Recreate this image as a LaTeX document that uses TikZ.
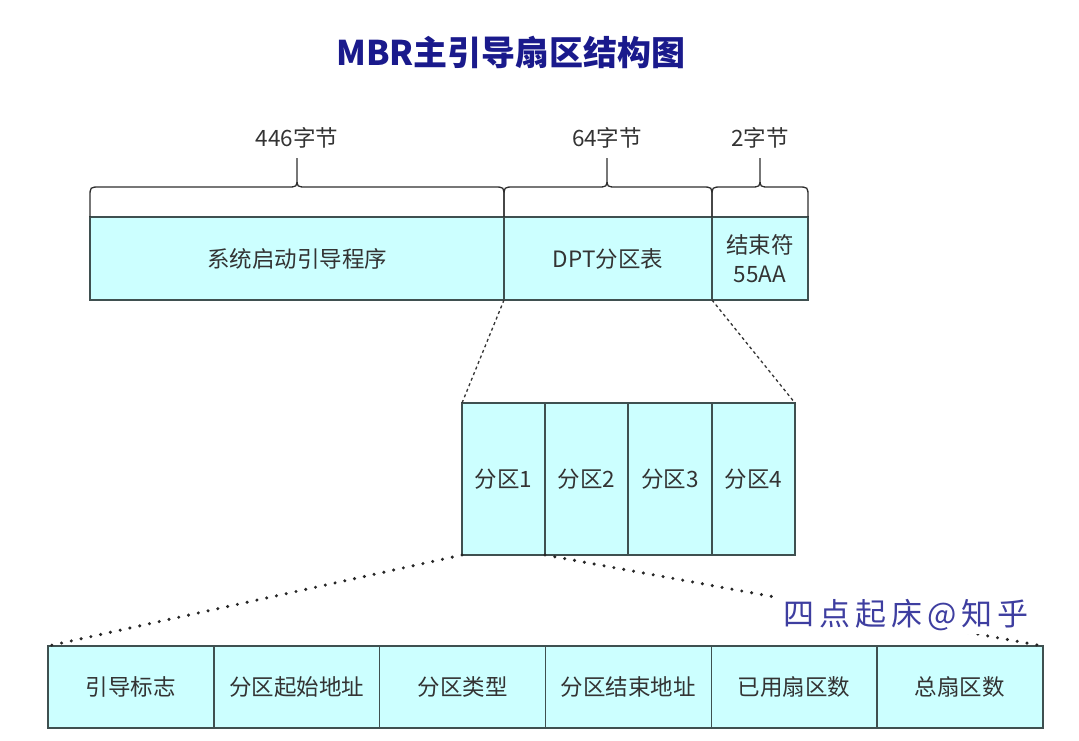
\documentclass[tikz,border=0pt]{standalone}
\usepackage{fontspec}
\setmainfont{Noto Sans CJK SC}
\newfontfamily\wmfont[LetterSpace=16]{Noto Sans CJK SC}
\definecolor{cellfill}{HTML}{CCFFFF}
\definecolor{celldraw}{HTML}{3F5050}
\definecolor{txt}{HTML}{333333}
\definecolor{titleblue}{HTML}{1A1A8C}
\definecolor{wmblue}{HTML}{3E3EA0}
\newcommand{\mbrace}[3]{%
  \draw[bracestyle] (#1,217) -- (#1,197) .. controls (#1,187) .. (#1+10,187)
    -- (#2-10,187) .. controls (#2,187) .. (#2,178) -- (#2,158) -- (#2,178)
    .. controls (#2,187) .. (#2+10,187) -- (#3-10,187) .. controls (#3,187) .. (#3,197) -- (#3,217);}
\begin{document}
\begin{tikzpicture}[x=1pt,y=-1pt,
  cell/.style={draw=celldraw, fill=cellfill, line width=1.4pt, inner sep=0pt, outer sep=0pt,
    text=txt, font=\fontsize{22.5}{29}\selectfont, align=center},
  lbl/.style={text=txt, font=\fontsize{22.5}{26}\selectfont, inner sep=0pt},
  bracestyle/.style={draw=txt!90!black, line width=1.3pt},
  dashline/.style={draw=txt, line width=1.3pt, dash pattern=on 3pt off 3pt},
  dotline/.style={draw=black!85, line width=3.4pt, line cap=round, dash pattern=on 0pt off 10pt},
  titlestyle/.style={text=titleblue, font=\fontsize{34}{40}\selectfont\bfseries, inner sep=0pt},
  wm/.style={fill=white, text=wmblue, font=\fontsize{31}{36}\selectfont\wmfont, inner sep=0pt,
    minimum width=258pt, minimum height=38pt}]
\useasboundingbox (0,0) rectangle (1079,740);

\node[titlestyle] (title) at (511,52) {MBR主引导扇区结构图};

% top row
\node[cell, minimum width=414pt, minimum height=83pt] (boot) at (297,258.5) {系统启动引导程序};
\node[cell, minimum width=208pt, minimum height=83pt] (dpt) at (608,258.5) {DPT分区表};
\node[cell, minimum width=96pt, minimum height=83pt] (endm) at (760,258.5) {结束符\\55AA};

% braces
\mbrace{90}{297}{504}
\mbrace{504}{607}{712}
\mbrace{712}{760}{808}
\node[lbl] (l1) at (297,138) {446字节};
\node[lbl] (l2) at (607,138) {64字节};
\node[lbl] (l3) at (760,138) {2字节};

% partitions
\node[cell, minimum width=83pt, minimum height=152pt] (p1) at (503.5,479) {分区1};
\node[cell, minimum width=83pt, minimum height=152pt] (p2) at (586.5,479) {分区2};
\node[cell, minimum width=84pt, minimum height=152pt] (p3) at (670,479) {分区3};
\node[cell, minimum width=83pt, minimum height=152pt] (p4) at (753.5,479) {分区4};

% bottom row
\node[cell, minimum width=165.8pt, minimum height=82pt] (b1) at (130.9,687) {引导标志};
\node[cell, minimum width=165.8pt, minimum height=82pt] (b2) at (296.7,687) {分区起始地址};
\node[cell, minimum width=165.8pt, minimum height=82pt] (b3) at (462.5,687) {分区类型};
\node[cell, minimum width=165.8pt, minimum height=82pt] (b4) at (628.3,687) {分区结束地址};
\node[cell, minimum width=165.8pt, minimum height=82pt] (b5) at (794.1,687) {已用扇区数};
\node[cell, minimum width=165.8pt, minimum height=82pt] (b6) at (959.9,687) {总扇区数};

% connectors
\draw[dashline] (dpt.south west) -- (p1.north west);
\draw[dashline] (endm.south west) -- (p4.north east);
\draw[dotline] (p1.south west) -- (b1.north west);
\draw[dotline] (p1.south east) -- (b6.north east);

\node[wm] (wmk) at (906,615) {四点起床@知乎};
\end{tikzpicture}
\end{document}
